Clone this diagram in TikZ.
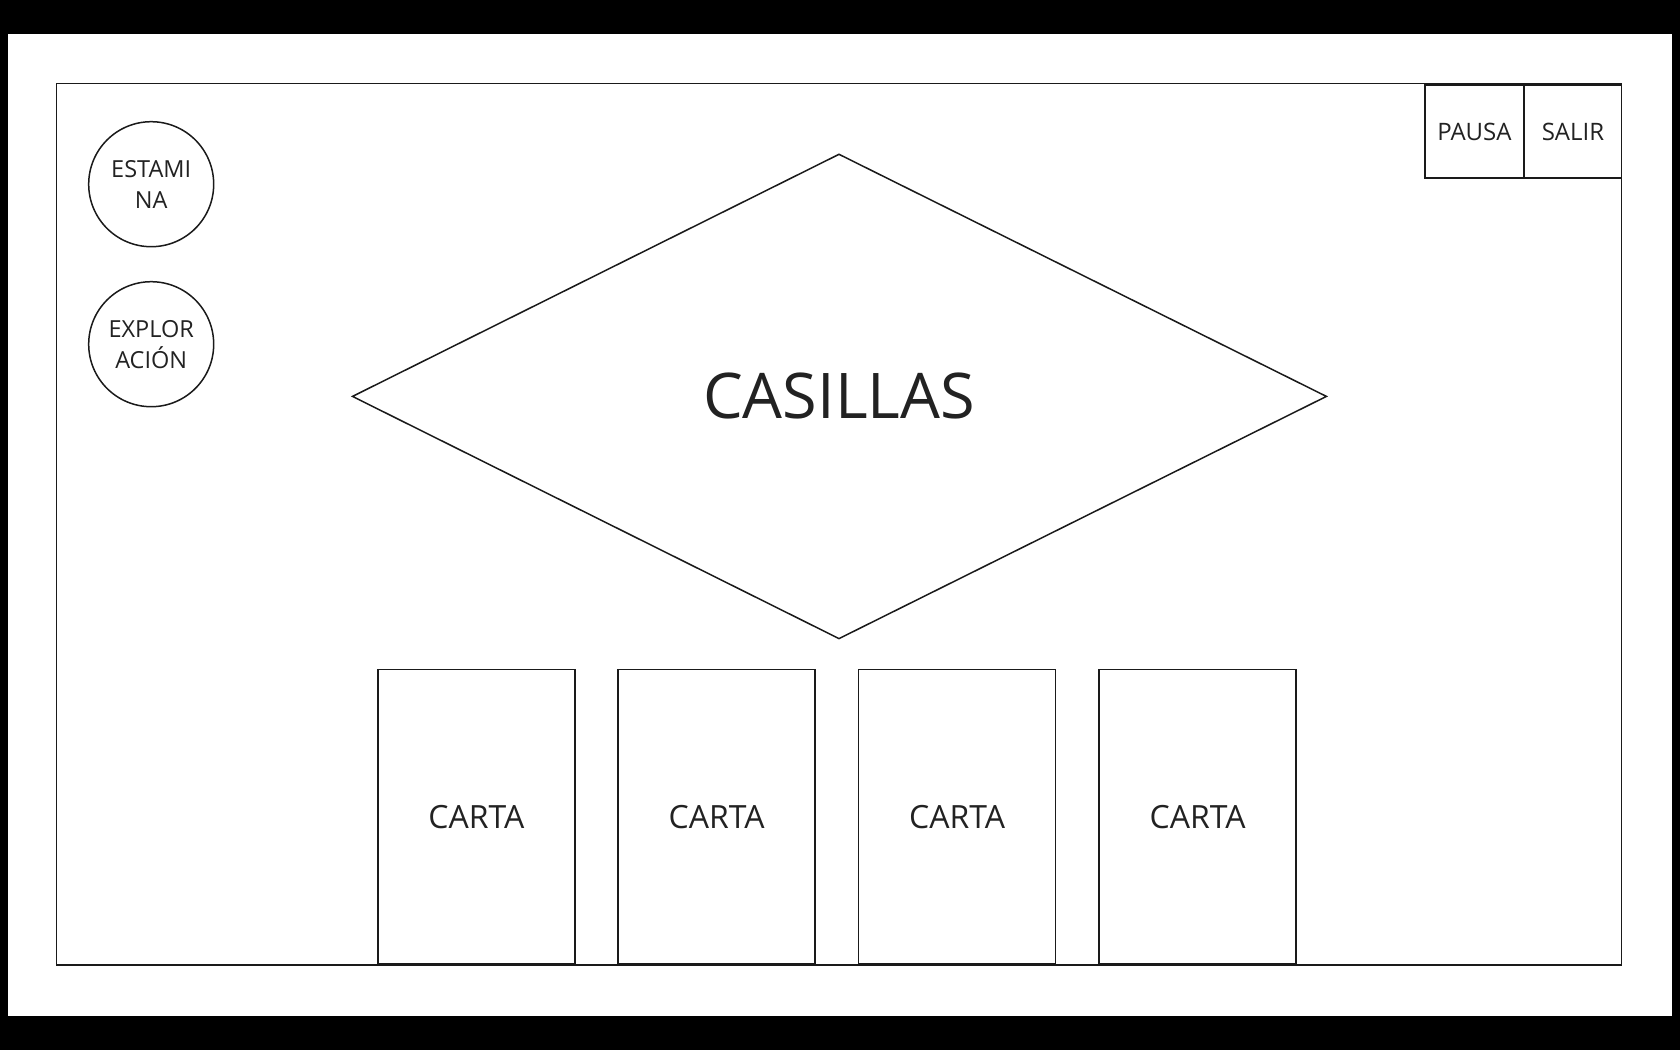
\documentclass[tikz,border=0pt]{standalone}
\usepackage{fontspec}
\setmainfont{Open Sans}
\usetikzlibrary{positioning}
\definecolor{txt}{HTML}{222222}
\definecolor{ln}{HTML}{1A1A1A}
\tikzset{
  every node/.style={text=txt},
  box/.style={draw=ln, line width=1.5pt, inner sep=0pt},
  circ/.style={draw=ln, line width=1.5pt, circle, minimum size=125pt, inner sep=0pt, align=center, font=\fontsize{23.5}{31}\selectfont},
  btn/.style={box, minimum height=93pt, font=\fontsize{24}{28}\selectfont},
  carta/.style={box, minimum width=197pt, minimum height=294.5pt, font=\fontsize{32}{38}\selectfont},
}
\begin{document}
\begin{tikzpicture}[x=1pt,y=-1pt]
\useasboundingbox (0,0) rectangle (1680,1050);
\fill[black] (0,0) rectangle (1680,1050);
\fill[white] (8.3,34.3) rectangle (1671.7,1015.7);
\draw[ln, line width=1.5pt] (56.7,83.5) rectangle (1621.5,965);
% circles
\node[circ] (est) at (151.2,184.2) {ESTAMI\\NA};
\node[circ] (exp) at (151.2,344.2) {EXPLOR\\ACIÓN};
% buttons
\node[btn, minimum width=99.3pt, anchor=north west] (pausa) at (1424,84.2) {PAUSA};
\node[btn, minimum width=97.3pt, anchor=north west] (salir) at (1523.5,84.2) {SALIR};
% diamond
\coordinate (dt) at (839,154.3);
\coordinate (dl) at (352.5,396.4);
\coordinate (dr) at (1326.4,396.4);
\coordinate (db) at (839,638.6);
\draw[ln, line width=1.5pt, line join=miter] (dt) -- (dr) -- (db) -- (dl) -- cycle;
\node[font=\fontsize{63}{76}\selectfont] (cas) at (839,396.4) {CASILLAS};
% cards
\node[carta, anchor=south west] (c1) at (377.1,964.6) {CARTA};
\node[carta, anchor=south west] (c2) at (617.3,964.6) {CARTA};
\node[carta, anchor=south west] (c3) at (857.9,964.6) {CARTA};
\node[carta, anchor=south west] (c4) at (1098.4,964.6) {CARTA};
\end{tikzpicture}
\end{document}
